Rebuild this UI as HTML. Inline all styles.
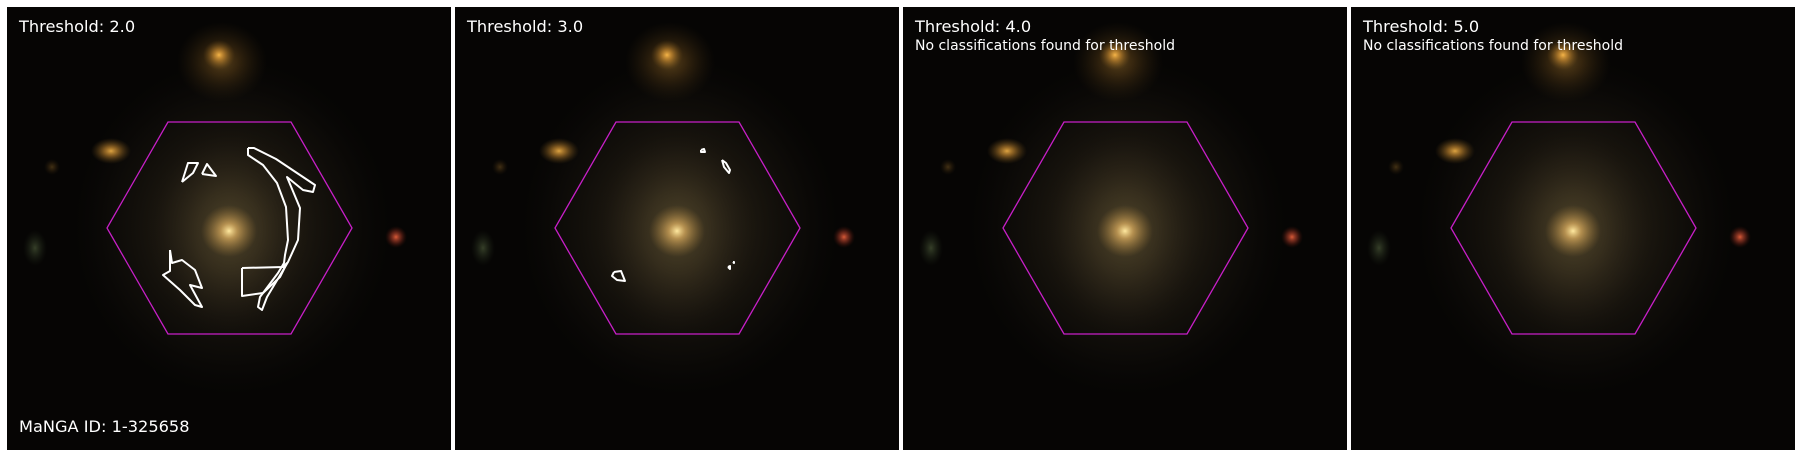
<!DOCTYPE html>
<html><head><meta charset="utf-8"><style>
html,body{margin:0;padding:0;background:#fff;width:1800px;height:457px;overflow:hidden}
svg{display:block}
text{font-family:"DejaVu Sans","Liberation Sans",sans-serif;fill:#fff}
</style></head><body>
<svg id="fig" width="1800" height="457" viewBox="0 0 1800 457">
<defs>
<radialGradient id="halo" cx="0.5" cy="0.5" r="0.5">
<stop offset="0" stop-color="#7a6a40" stop-opacity="0.7"/>
<stop offset="0.4" stop-color="#5a4c30" stop-opacity="0.5"/>
<stop offset="0.75" stop-color="#30281c" stop-opacity="0.3"/>
<stop offset="1" stop-color="#1a140e" stop-opacity="0"/>
</radialGradient>
<radialGradient id="core" cx="0.5" cy="0.5" r="0.5">
<stop offset="0" stop-color="#ffe9a0"/>
<stop offset="0.3" stop-color="#e0b060" stop-opacity="0.7"/>
<stop offset="1" stop-color="#a07838" stop-opacity="0"/>
</radialGradient>
<radialGradient id="star" cx="0.5" cy="0.5" r="0.5">
<stop offset="0" stop-color="#f6b548"/>
<stop offset="0.35" stop-color="#c88a30" stop-opacity="0.7"/>
<stop offset="1" stop-color="#6a4a18" stop-opacity="0"/>
</radialGradient>
<radialGradient id="red" cx="0.5" cy="0.5" r="0.5">
<stop offset="0" stop-color="#d85a38"/>
<stop offset="0.5" stop-color="#8a3020" stop-opacity="0.6"/>
<stop offset="1" stop-color="#401008" stop-opacity="0"/>
</radialGradient>
<radialGradient id="green" cx="0.5" cy="0.5" r="0.5">
<stop offset="0" stop-color="#4a5838" stop-opacity="0.7"/>
<stop offset="1" stop-color="#202818" stop-opacity="0"/>
</radialGradient>
</defs>
</svg>
<script>
const thresholds = ["2.0","3.0","4.0","5.0"];
const hasClassifications = [true,true,false,false];
// contour outlines per panel (image coords relative to panel 1 frame)
const contours = [
 [
  [[182,182],[188,163],[198,163],[193,173],[182,182]],
  [[202,174],[207,164],[216,176],[202,174]],
  [[248,148],[254,148],[276,159],[315,185],[313,192],[303,190],[287,177],[300,208],[298,240],[288,262],[267,297],[262,310],[258,307],[260,297],[278,273],[284,263],[285,255],[288,240],[286,207],[277,183],[263,165],[248,155],[248,148]],
  [[242,268],[283,267],[287,263],[280,277],[263,293],[242,296],[242,268]],
  [[170,250],[172,263],[182,260],[195,270],[202,288],[190,285],[202,307],[195,305],[180,290],[163,275],[170,271],[170,250]]
 ],
 [
  [[253,150],[256,149],[257,152],[253,152],[253,150]],
  [[274,160],[278,163],[282,170],[281,173],[276,167],[274,160]],
  [[166,272],[173,271],[177,281],[169,280],[164,276],[166,272]],
  [[280,267],[282,266],[282,269],[280,267]],
  [[285,262],[286,262],[286,263],[285,262]]
 ],
 [],[]
];
const NS="http://www.w3.org/2000/svg";
const fig=document.getElementById('fig');
function mk(tag,attrs,parent){const e=document.createElementNS(NS,tag);for(const k in attrs)e.setAttribute(k,attrs[k]);parent.appendChild(e);return e;}
thresholds.forEach((t,i)=>{
 const dx=7+i*448;
 const g=mk('g',{transform:`translate(${dx},7)`},fig);
 
 
 const img=mk('g',{},g);
 
 
 mk('rect',{x:0,y:0,width:444,height:443,fill:'#060504'},img);
 mk('ellipse',{cx:215,cy:55,rx:45,ry:40,fill:'url(#star)',opacity:0.35},img);
 mk('ellipse',{cx:225,cy:220,rx:160,ry:170,fill:'url(#halo)',opacity:0.55},img);
 mk('ellipse',{cx:222,cy:225,rx:80,ry:105,fill:'url(#halo)',opacity:0.6},img);
 mk('ellipse',{cx:222,cy:224,rx:28,ry:26,fill:'url(#core)'},img);
 mk('ellipse',{cx:212,cy:48,rx:16,ry:15,fill:'url(#star)'},img);
 mk('ellipse',{cx:104,cy:144,rx:20,ry:13,fill:'url(#star)',opacity:0.9},img);
 mk('ellipse',{cx:389,cy:230,rx:11,ry:11,fill:'url(#red)'},img);
 mk('ellipse',{cx:28,cy:241,rx:12,ry:18,fill:'url(#green)'},img);
 mk('ellipse',{cx:45,cy:160,rx:8,ry:8,fill:'url(#star)',opacity:0.25},img);
 const hex=mk('polygon',{points:'161,115 284,115 345,221 284,327 161,327 100,221',fill:'none',stroke:'#c71fc7','stroke-width':1.3},g);
 
 
 contours[i].forEach((c,j)=>{
  const p=mk('polyline',{points:c.map(q=>(q[0]-7)+','+(q[1]-7)).join(' '),fill:'none',stroke:'#fff','stroke-width':2,'stroke-linejoin':'round'},g);
  
  
 });
 const tt=mk('text',{x:12,y:25,'font-size':16.2},g);tt.textContent='Threshold: '+t;
 
 
 if(!hasClassifications[i]){
  const n=mk('text',{x:12,y:43,'font-size':14},g);n.textContent='No classifications found for threshold';
  
  
 }
 if(i===0){
  const m=mk('text',{x:12,y:425,'font-size':16.2},g);m.textContent='MaNGA ID: 1-325658';
  
  
 }
});
</script>
</body></html>
